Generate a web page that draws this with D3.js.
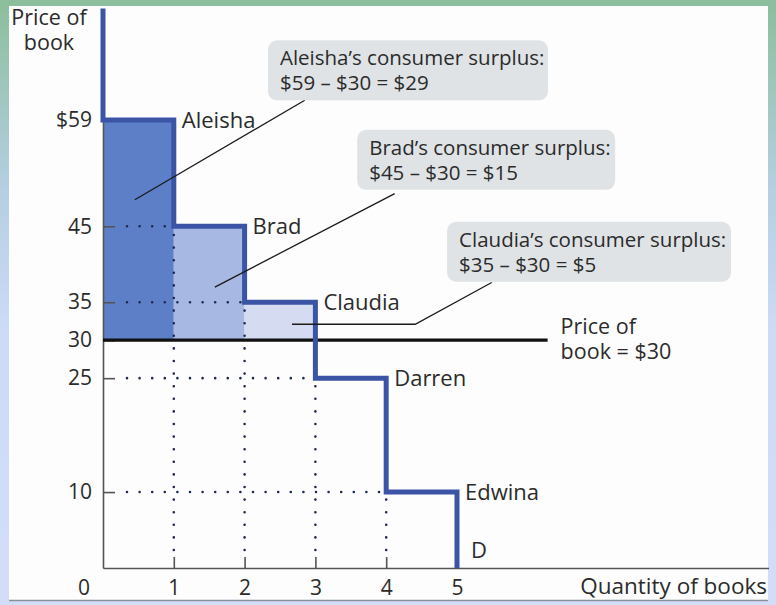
<!DOCTYPE html>
<html>
<head>
<meta charset="utf-8">
<script src="https://cdn.jsdelivr.net/npm/d3@7"></script>
<style>
  html, body { margin: 0; padding: 0; background: #fff; }
  svg { display: block; }
  text { font-family: "Open Sans", Lato, sans-serif; fill: #2b2b2b; }
  .axis text { font-size: 21px; fill: #2b2b2b; }
  .axis path, .axis line { stroke: #555; stroke-width: 1.6; }
</style>
</head>
<body>
<div id="app"></div>
<script>
// ---- data ----
var buyers = ["Aleisha", "Brad", "Claudia", "Darren", "Edwina"];
var willingness = [59, 45, 35, 25, 10];     // price each buyer will pay
var marketPrice = 30;
var priceTicks = [10, 25, 30, 35, 45, 59];
var quantityTicks = [1, 2, 3, 4, 5];
var priceTop = 73.7;                        // demand curve runs up past $59
var surplusFill = ["#5d7fc8", "#a7b8e3", "#d5dcf2"];
var surplusLines = [
  ["Aleisha\u2019s consumer surplus:", "$59 \u2013 $30 = $29"],
  ["Brad\u2019s consumer surplus:", "$45 \u2013 $30 = $15"],
  ["Claudia\u2019s consumer surplus:", "$35 \u2013 $30 = $5"]
];
// callout box anchor (quantity, price), leader line points (quantity, price)
var calloutBox = [[2.33, 69.5], [3.59, 57.7], [4.86, 45.6]];
var calloutWidth = [280, 258, 284];
var leaders = [
  [[0.45, 48.5], [2.85, 61.6]],
  [[1.58, 37.0], [4.12, 49.3]],
  [[2.67, 32.1], [4.41, 32.1], [5.49, 37.6]]
];

var W = 776, H = 605;

var x = d3.scaleLinear().domain([0, 9.4]).range([103, 768.5]);
var y = d3.scaleLinear().domain([0, 59]).range([568, 120]);

var svg = d3.select("#app").append("svg")
    .attr("width", W)
    .attr("height", H);

// backdrop gradient + white panel
var defs = svg.append("defs");
var grad = defs.append("linearGradient")
    .attr("id", "bg").attr("x1", 0).attr("y1", 0).attr("x2", 0).attr("y2", 1);
grad.append("stop").attr("offset", "0%").attr("stop-color", "#8bbe9b");
grad.append("stop").attr("offset", "30%").attr("stop-color", "#b4cee0");
grad.append("stop").attr("offset", "55%").attr("stop-color", "#cddbf7");
grad.append("stop").attr("offset", "100%").attr("stop-color", "#d3ddf8");

svg.append("rect").attr("width", W).attr("height", H).attr("fill", "url(#bg)");
svg.append("rect")
    .attr("x", 9).attr("y", 6).attr("width", 759).attr("height", 594)
    .attr("fill", "#fdfdfd");
svg.append("line")
    .attr("x1", 9).attr("x2", 768).attr("y1", 600.5).attr("y2", 600.5)
    .attr("stroke", "#8a8f99").attr("stroke-width", 1.5);

// consumer surplus areas (buyers who buy at the market price)
var buying = willingness.filter(function(d) { return d > marketPrice; });
svg.append("g").selectAll("rect")
    .data(buying)
  .enter().append("rect")
    .attr("x", function(d, i) { return x(i); })
    .attr("width", function(d, i) { return x(i + 1) - x(i); })
    .attr("y", function(d) { return y(d); })
    .attr("height", function(d) { return y(marketPrice) - y(d); })
    .attr("fill", function(d, i) { return surplusFill[i]; });

// dotted guide lines
var guides = svg.append("g")
    .attr("stroke", "#1e2a4e")
    .attr("stroke-width", 2.6)
    .attr("stroke-linecap", "round")
    .attr("stroke-dasharray", "0 12.6");

willingness.slice(1).forEach(function(p, i) {
  guides.append("line")
      .attr("x1", x(0) + 24).attr("x2", x(i + 1))
      .attr("y1", y(p)).attr("y2", y(p));
  guides.append("line")
      .attr("x1", x(i + 1)).attr("x2", x(i + 1))
      .attr("y1", y(0) - 18).attr("y2", y(p));
});

// axes
svg.append("g")
    .attr("class", "axis axis--y")
    .attr("transform", "translate(" + x(0) + ",0)")
    .call(d3.axisLeft(y)
        .tickValues(priceTicks)
        .tickSizeInner(-12)
        .tickSizeOuter(0)
        .tickPadding(11)
        .tickFormat(function(d) { return d === 59 ? "$" + d : d; }));

svg.append("g")
    .attr("class", "axis axis--x")
    .attr("transform", "translate(0," + y(0) + ")")
    .call(d3.axisBottom(x)
        .tickValues(quantityTicks)
        .tickSizeInner(-11)
        .tickSizeOuter(0)
        .tickPadding(12));

svg.select(".axis--x").append("text")
    .attr("x", x(0) - 19).attr("y", 12).attr("dy", "0.71em")
    .attr("text-anchor", "middle")
    .text("0");

// price line
svg.append("line")
    .attr("x1", x(0)).attr("x2", x(6.28))
    .attr("y1", y(marketPrice)).attr("y2", y(marketPrice))
    .attr("stroke", "#111").attr("stroke-width", 3.2);

// demand staircase
var steps = [[0, priceTop]];
willingness.forEach(function(p, i) {
  steps.push([i, p]);
  steps.push([i + 1, p]);
});
steps.push([willingness.length, 0]);

svg.append("path")
    .datum(steps)
    .attr("fill", "none")
    .attr("stroke", "#3b54a5")
    .attr("stroke-width", 5)
    .attr("d", d3.line()
        .x(function(d) { return x(d[0]); })
        .y(function(d) { return y(d[1]); }));

// buyer labels
svg.append("g").selectAll("text")
    .data(buyers)
  .enter().append("text")
    .attr("x", function(d, i) { return x(i + 1) + 8; })
    .attr("y", function(d, i) { return y(willingness[i]) + 8; })
    .attr("font-size", 22)
    .text(function(d) { return d; });

svg.append("text")
    .attr("x", x(5) + 14).attr("y", y(0) - 10)
    .attr("font-size", 22)
    .text("D");

// axis titles
var yTitle = svg.append("text")
    .attr("text-anchor", "middle")
    .attr("font-size", 21.5);
yTitle.append("tspan").attr("x", 49).attr("y", 25).text("Price of");
yTitle.append("tspan").attr("x", 49).attr("y", 49.5).text("book");

svg.append("text")
    .attr("x", 767).attr("y", 594)
    .attr("text-anchor", "end")
    .attr("font-size", 22.5)
    .text("Quantity of books");

var priceLabel = svg.append("text").attr("font-size", 21.5);
priceLabel.append("tspan").attr("x", x(6.28) + 13).attr("y", y(marketPrice) - 6).text("Price of");
priceLabel.append("tspan").attr("x", x(6.28) + 13).attr("y", y(marketPrice) + 19).text("book = $30");

// callouts
var lineGen = d3.line()
    .x(function(d) { return x(d[0]); })
    .y(function(d) { return y(d[1]); });

svg.append("g").selectAll("path")
    .data(leaders)
  .enter().append("path")
    .attr("fill", "none")
    .attr("stroke", "#1a1a1a")
    .attr("stroke-width", 1.3)
    .attr("d", lineGen);

var boxes = svg.append("g").selectAll("g")
    .data(surplusLines)
  .enter().append("g")
    .attr("transform", function(d, i) {
      return "translate(" + x(calloutBox[i][0]) + "," + y(calloutBox[i][1]) + ")";
    });

boxes.append("rect")
    .attr("width", function(d, i) { return calloutWidth[i]; })
    .attr("height", 60)
    .attr("rx", 9)
    .attr("fill", "#dfe3e5");

boxes.append("text")
    .attr("x", 12).attr("y", 25)
    .attr("font-size", 20.5)
    .text(function(d) { return d[0]; });
boxes.append("text")
    .attr("x", 12).attr("y", 50)
    .attr("font-size", 20.5)
    .text(function(d) { return d[1]; });
</script>
</body>
</html>
